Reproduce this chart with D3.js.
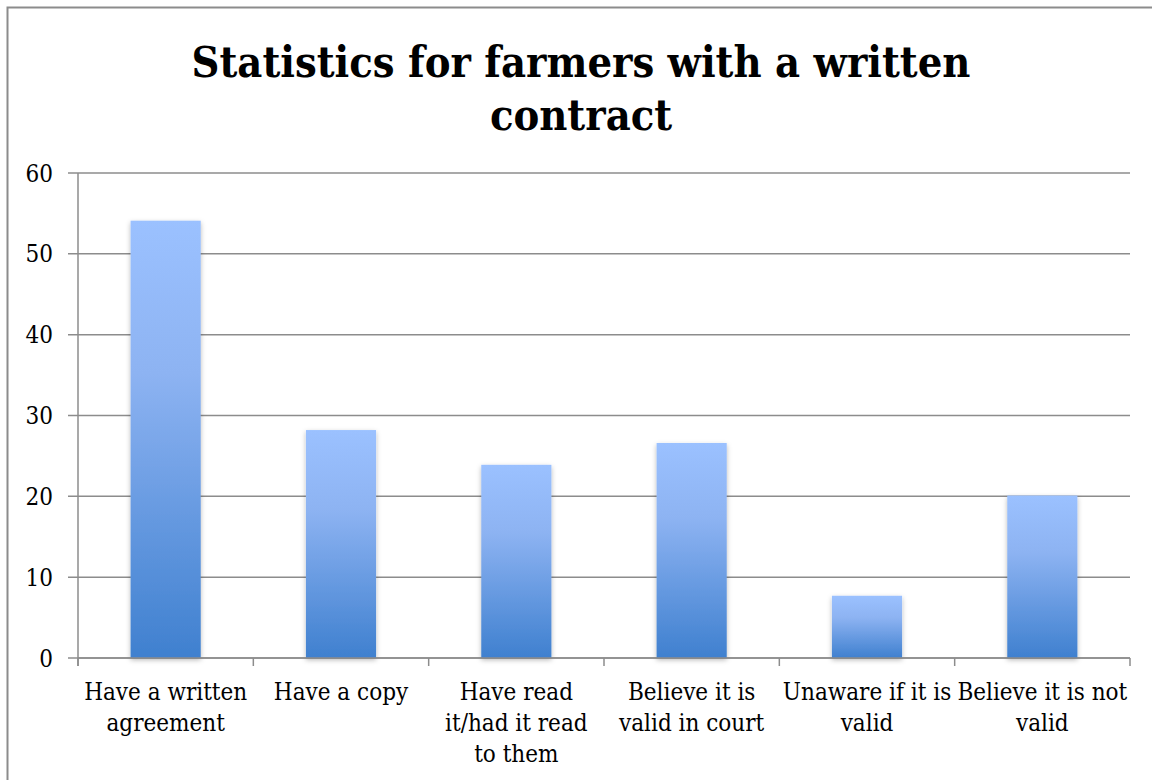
<!DOCTYPE html>
<html>
<head>
<meta charset="utf-8">
<script src="https://cdn.jsdelivr.net/npm/d3@7"></script>
<style>
  html, body { margin: 0; padding: 0; background: #fff; }
  svg { display: block; }
</style>
</head>
<body>
<svg id="chart" width="1152" height="780"></svg>
<script>
// Survey responses (percent of farmers holding a written contract)
const categories = [
  ["Have a written", "agreement"],
  ["Have a copy"],
  ["Have read", "it/had it read", "to them"],
  ["Believe it is", "valid in court"],
  ["Unaware if it is", "valid"],
  ["Believe it is not", "valid"]
];
const values = [54.1, 28.2, 23.9, 26.6, 7.7, 20.1];
const yTicks = [0, 10, 20, 30, 40, 50, 60];
const titleLines = ["Statistics for farmers with a written", "contract"];

const svg = d3.select("#chart");
const fontFamily = "'DejaVu Serif Condensed', 'DejaVu Serif', serif";

// Outer chart frame
svg.append("rect")
  .attr("x", 7.5).attr("y", 7.5)
  .attr("width", 1160).attr("height", 800)
  .attr("fill", "none").attr("stroke", "#8c8c8c").attr("stroke-width", 2);

const plot = { left: 78, right: 1130, top: 173, bottom: 658 };

const x = d3.scaleBand()
  .domain(d3.range(categories.length))
  .range([plot.left, plot.right])
  .paddingInner(0.6).paddingOuter(0.3);

const band = d3.scaleBand()
  .domain(d3.range(categories.length))
  .range([plot.left, plot.right]);

const y = d3.scaleLinear().domain([0, 60]).range([plot.bottom, plot.top]);

// Gradient fill for bars
const defs = svg.append("defs");
const grad = defs.append("linearGradient")
  .attr("id", "barGrad").attr("x1", 0).attr("y1", 0).attr("x2", 0).attr("y2", 1);
grad.append("stop").attr("offset", "0%").attr("stop-color", "#9bc1ff");
grad.append("stop").attr("offset", "35%").attr("stop-color", "#8db3f2");
grad.append("stop").attr("offset", "100%").attr("stop-color", "#3f80cf");

const shadow = defs.append("filter").attr("id", "barShadow")
  .attr("x", "-20%").attr("y", "-5%").attr("width", "140%").attr("height", "115%");
shadow.append("feDropShadow")
  .attr("dx", 0).attr("dy", 2).attr("stdDeviation", 2.5)
  .attr("flood-color", "#000").attr("flood-opacity", 0.28);

// Horizontal gridlines
svg.append("g")
  .selectAll("line")
  .data(yTicks)
  .join("line")
  .attr("x1", plot.left - 10).attr("x2", plot.right)
  .attr("y1", d => y(d)).attr("y2", d => y(d))
  .attr("stroke", "#8c8c8c").attr("stroke-width", 1.5);

// Y axis labels
svg.append("g")
  .selectAll("text")
  .data(yTicks)
  .join("text")
  .attr("x", 53).attr("y", d => y(d))
  .attr("dy", "0.36em")
  .attr("text-anchor", "end")
  .attr("font-family", fontFamily).attr("font-size", 24).attr("fill", "#000")
  .text(d => d);

// Bars
svg.append("g")
  .selectAll("rect")
  .data(values)
  .join("rect")
  .attr("x", (d, i) => x(i))
  .attr("width", x.bandwidth())
  .attr("y", d => y(d))
  .attr("height", d => y(0) - y(d))
  .attr("fill", "url(#barGrad)")
  .attr("filter", "url(#barShadow)");

// Axes lines
svg.append("line")
  .attr("x1", plot.left).attr("x2", plot.left)
  .attr("y1", plot.top).attr("y2", plot.bottom + 8)
  .attr("stroke", "#8c8c8c").attr("stroke-width", 1.5);
svg.append("line")
  .attr("x1", plot.left).attr("x2", plot.right)
  .attr("y1", plot.bottom).attr("y2", plot.bottom)
  .attr("stroke", "#8c8c8c").attr("stroke-width", 1.5);

// Category tick marks at band boundaries
const boundaries = d3.range(categories.length + 1).map(i =>
  i < categories.length ? band(i) : plot.right);
svg.append("g")
  .selectAll("line")
  .data(boundaries)
  .join("line")
  .attr("x1", d => d).attr("x2", d => d)
  .attr("y1", plot.bottom).attr("y2", plot.bottom + 8)
  .attr("stroke", "#8c8c8c").attr("stroke-width", 1.5);

// Category labels
const labels = svg.append("g")
  .selectAll("text")
  .data(categories)
  .join("text")
  .attr("x", (d, i) => band(i) + band.bandwidth() / 2)
  .attr("y", 700)
  .attr("text-anchor", "middle")
  .attr("font-family", fontFamily).attr("font-size", 24).attr("fill", "#000");
labels.selectAll("tspan")
  .data(d => d)
  .join("tspan")
  .attr("x", function () { return d3.select(this.parentNode).attr("x"); })
  .attr("dy", (d, i) => i === 0 ? 0 : 31)
  .text(d => d);

// Title
svg.append("g")
  .selectAll("text")
  .data(titleLines)
  .join("text")
  .attr("x", 581).attr("y", (d, i) => 77 + i * 53)
  .attr("text-anchor", "middle")
  .attr("font-family", fontFamily).attr("font-weight", "bold")
  .attr("font-size", 43).attr("fill", "#000")
  .text(d => d);
</script>
</body>
</html>
